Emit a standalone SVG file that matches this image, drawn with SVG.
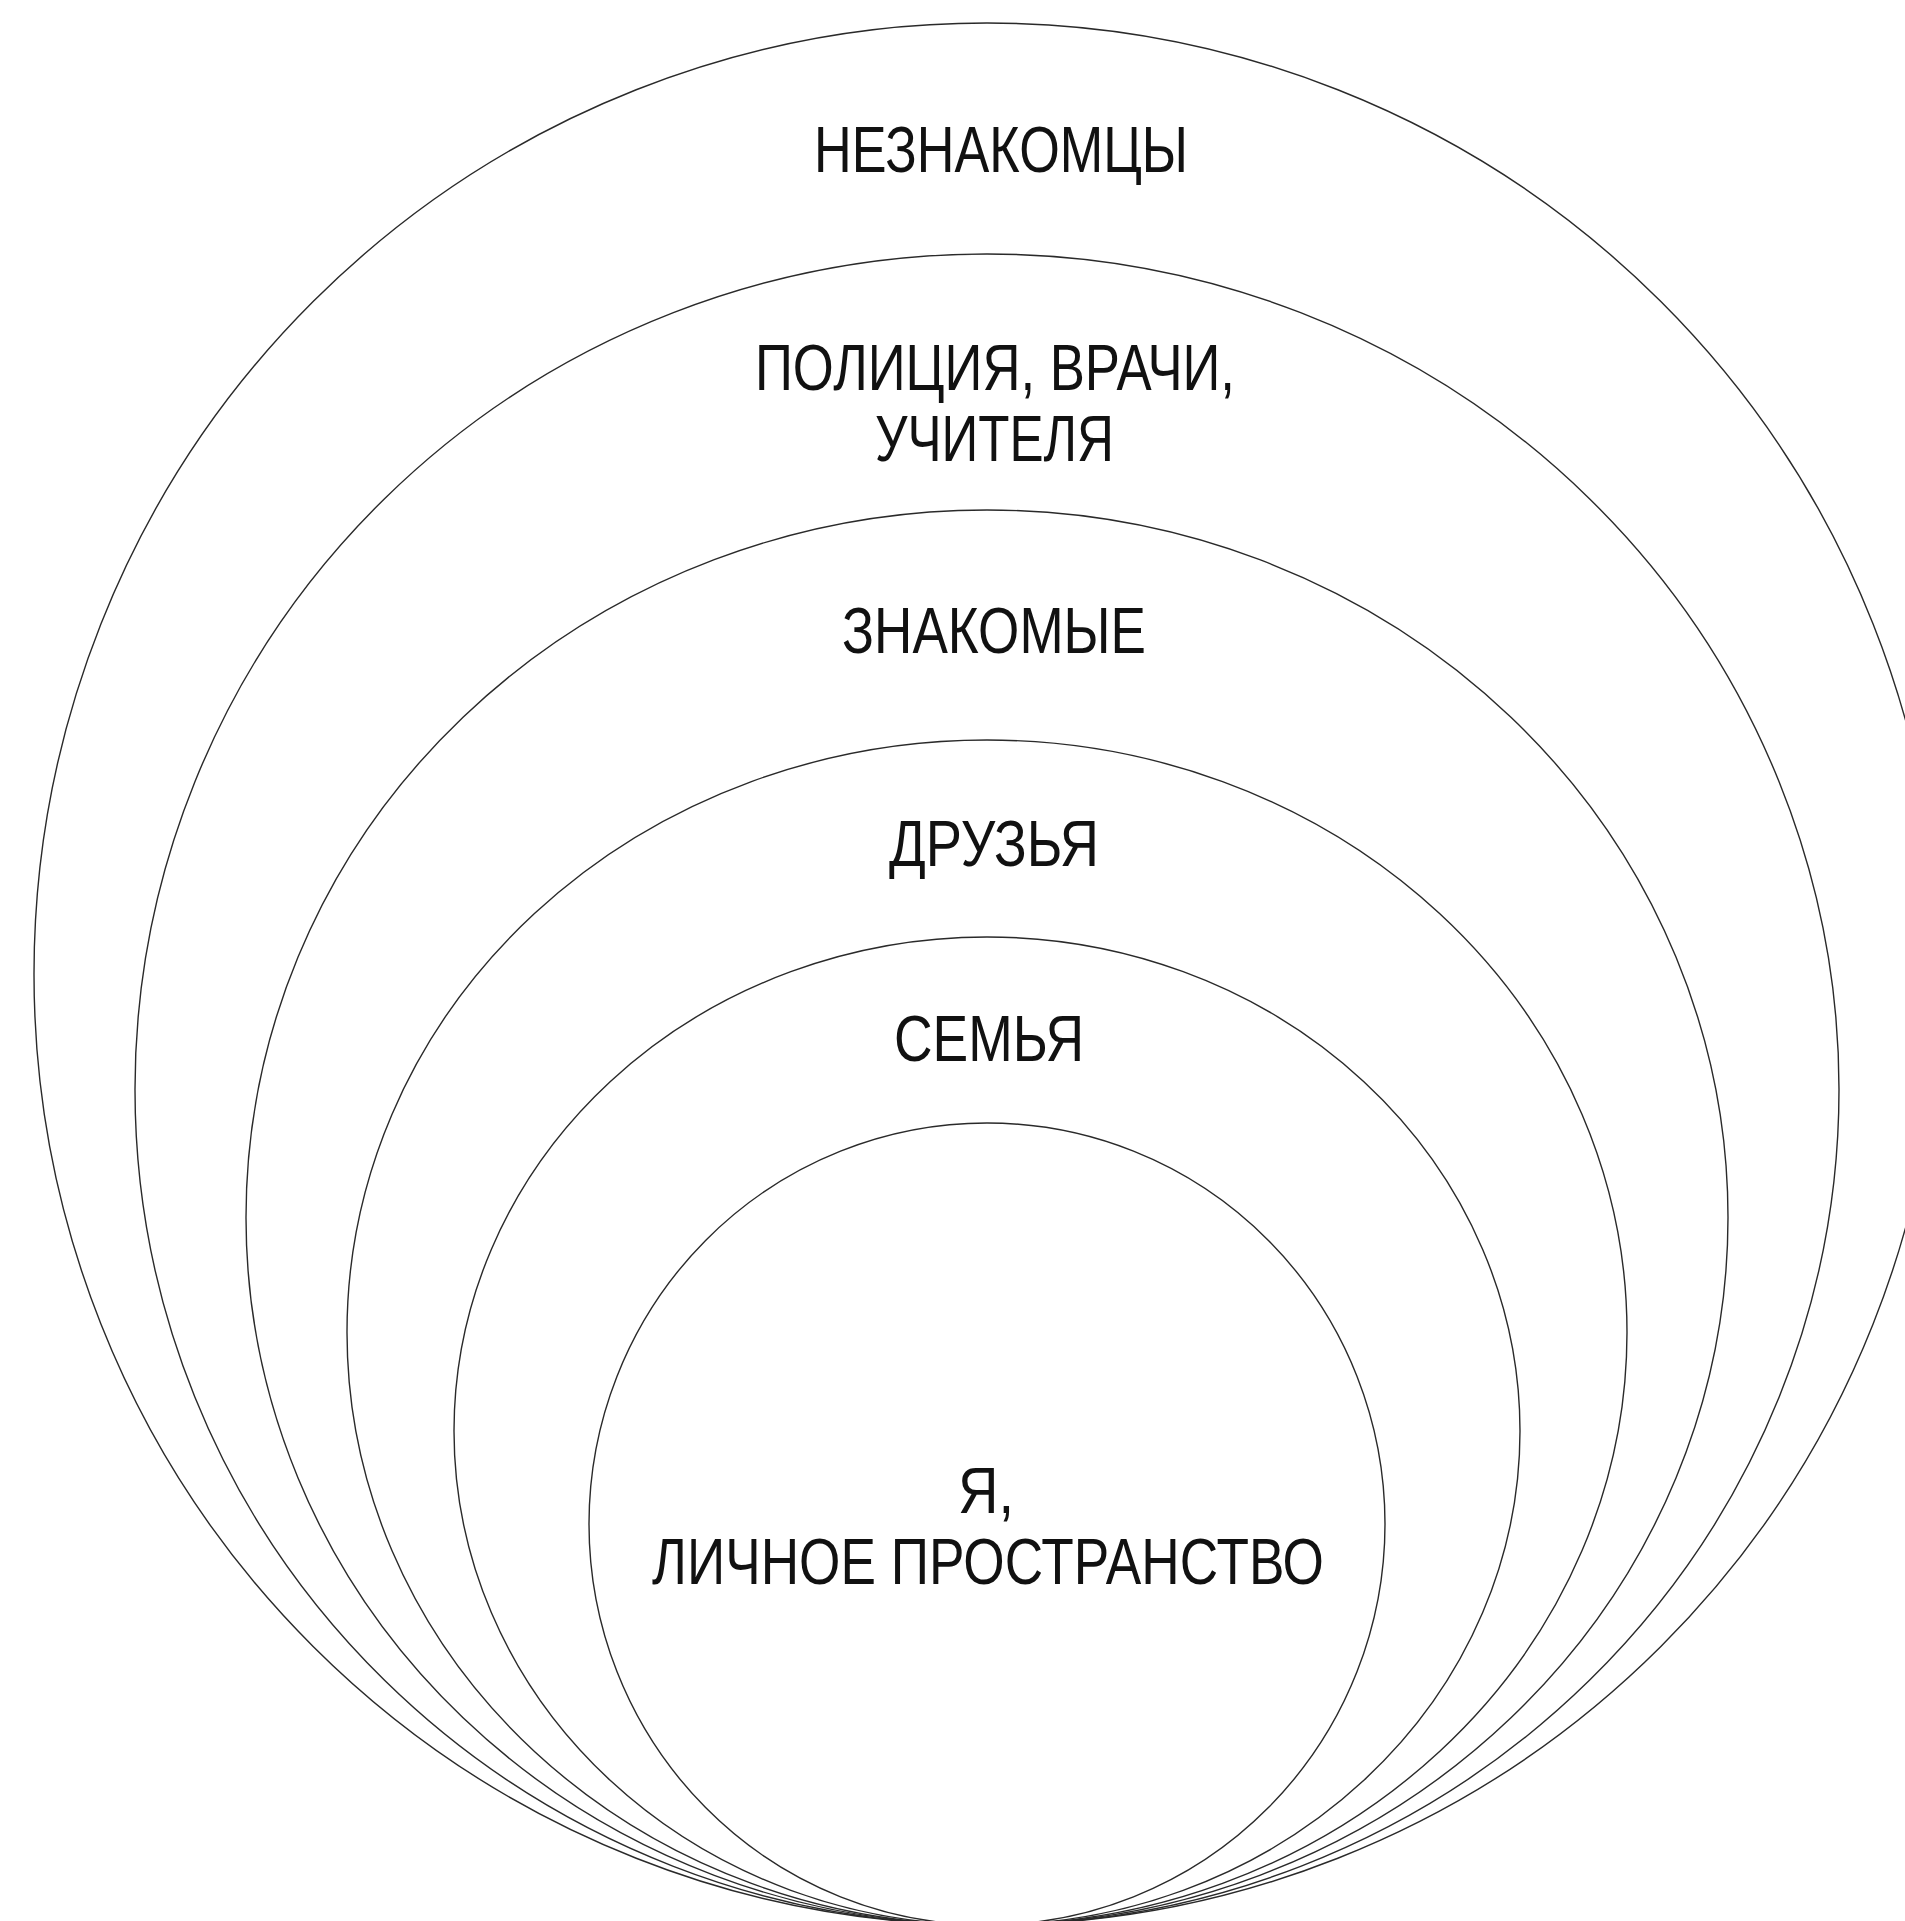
<svg xmlns="http://www.w3.org/2000/svg" width="1905" height="1921" viewBox="0 0 1905 1921">
<style>
.ring{fill:none;stroke:#2a2a2a;stroke-width:1.4}
.lbl{font-family:"Liberation Sans","Arial",sans-serif;font-size:64px;fill:#111}
</style>
<rect x="0" y="0" width="1905" height="1921" fill="#ffffff"/>
<g id="ring-strangers">
<ellipse class="ring" cx="987" cy="974" rx="953" ry="951"/>
<text class="lbl" x="814" y="172" textLength="374" lengthAdjust="spacingAndGlyphs">НЕЗНАКОМЦЫ</text>
</g>
<g id="ring-officials">
<ellipse class="ring" cx="987" cy="1089.5" rx="852" ry="835.5"/>
<text class="lbl" x="755" y="390" textLength="480" lengthAdjust="spacingAndGlyphs">ПОЛИЦИЯ, ВРАЧИ,</text>
<text class="lbl" x="875" y="461" textLength="239" lengthAdjust="spacingAndGlyphs">УЧИТЕЛЯ</text>
</g>
<g id="ring-acquaintances">
<ellipse class="ring" cx="987" cy="1217.5" rx="741" ry="707.5"/>
<text class="lbl" x="842" y="653" textLength="304" lengthAdjust="spacingAndGlyphs">ЗНАКОМЫЕ</text>
</g>
<g id="ring-friends">
<ellipse class="ring" cx="987" cy="1332.5" rx="640" ry="592.5"/>
<text class="lbl" x="889" y="866" textLength="210" lengthAdjust="spacingAndGlyphs">ДРУЗЬЯ</text>
</g>
<g id="ring-family">
<ellipse class="ring" cx="987" cy="1431" rx="533" ry="494"/>
<text class="lbl" x="894" y="1061" textLength="190" lengthAdjust="spacingAndGlyphs">СЕМЬЯ</text>
</g>
<g id="ring-self">
<ellipse class="ring" cx="987" cy="1524" rx="398" ry="401"/>
<text class="lbl" x="958" y="1513" textLength="56" lengthAdjust="spacingAndGlyphs">Я,</text>
<text class="lbl" x="652" y="1584" textLength="672" lengthAdjust="spacingAndGlyphs">ЛИЧНОЕ ПРОСТРАНСТВО</text>
</g>
<g id="connectors"></g>
</svg>
